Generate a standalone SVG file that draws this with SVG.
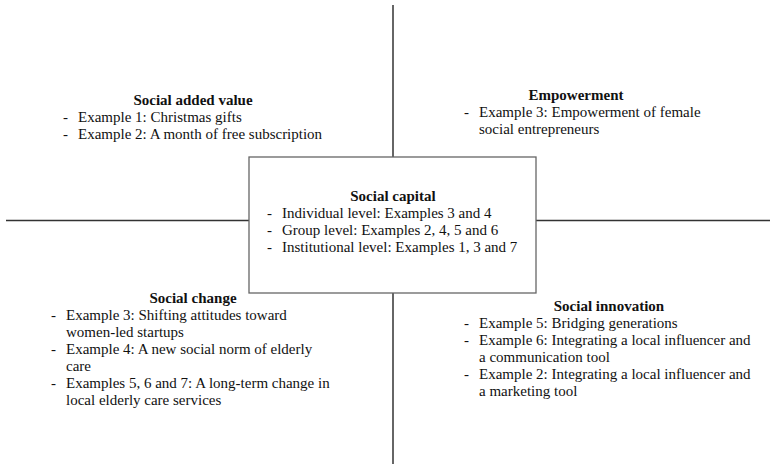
<svg xmlns="http://www.w3.org/2000/svg" width="770" height="464" viewBox="0 0 770 464">
<style>
text{font-family:"Liberation Serif","Times New Roman",serif;font-size:15px;fill:#111}
.h{font-weight:bold;text-anchor:middle}
.ax{stroke:#333;stroke-width:1.5;fill:none}
.box{stroke:#666;stroke-width:1.3;fill:#fff}
</style>
<rect width="770" height="464" fill="#fff"/>
<g id="connectors">
<line class="ax" x1="393" y1="5" x2="393" y2="157"/>
<line class="ax" x1="393" y1="293" x2="393" y2="464"/>
<line class="ax" x1="6" y1="220.5" x2="249" y2="220.5"/>
<line class="ax" x1="536" y1="220.5" x2="770" y2="220.5"/>
</g>
<g id="social-capital">
<rect class="box" x="249" y="157" width="287" height="136"/>
<text class="h" x="393" y="201">Social capital</text>
<text x="267" y="218">-</text><text x="282" y="218">Individual level: Examples 3 and 4</text>
<text x="267" y="235">-</text><text x="282" y="235">Group level: Examples 2, 4, 5 and 6</text>
<text x="267" y="252">-</text><text x="282" y="252">Institutional level: Examples 1, 3 and 7</text>
</g>
<g id="social-added-value">
<text class="h" x="193" y="105">Social added value</text>
<text x="63" y="122">-</text><text x="78" y="122">Example 1: Christmas gifts</text>
<text x="63" y="139">-</text><text x="78" y="139">Example 2: A month of free subscription</text>
</g>
<g id="empowerment">
<text class="h" x="576" y="100">Empowerment</text>
<text x="464" y="117">-</text><text x="479" y="117">Example 3: Empowerment of female</text>
<text x="479" y="134">social entrepreneurs</text>
</g>
<g id="social-change">
<text class="h" x="193" y="303">Social change</text>
<text x="51" y="320">-</text><text x="66" y="320">Example 3: Shifting attitudes toward</text>
<text x="66" y="337">women-led startups</text>
<text x="51" y="354">-</text><text x="66" y="354">Example 4: A new social norm of elderly</text>
<text x="66" y="371">care</text>
<text x="51" y="388">-</text><text x="66" y="388">Examples 5, 6 and 7: A long-term change in</text>
<text x="66" y="405">local elderly care services</text>
</g>
<g id="social-innovation">
<text class="h" x="609" y="311">Social innovation</text>
<text x="464" y="328">-</text><text x="479" y="328">Example 5: Bridging generations</text>
<text x="464" y="345">-</text><text x="479" y="345">Example 6: Integrating a local influencer and</text>
<text x="479" y="362">a communication tool</text>
<text x="464" y="379">-</text><text x="479" y="379">Example 2: Integrating a local influencer and</text>
<text x="479" y="396">a marketing tool</text>
</g>
</svg>
